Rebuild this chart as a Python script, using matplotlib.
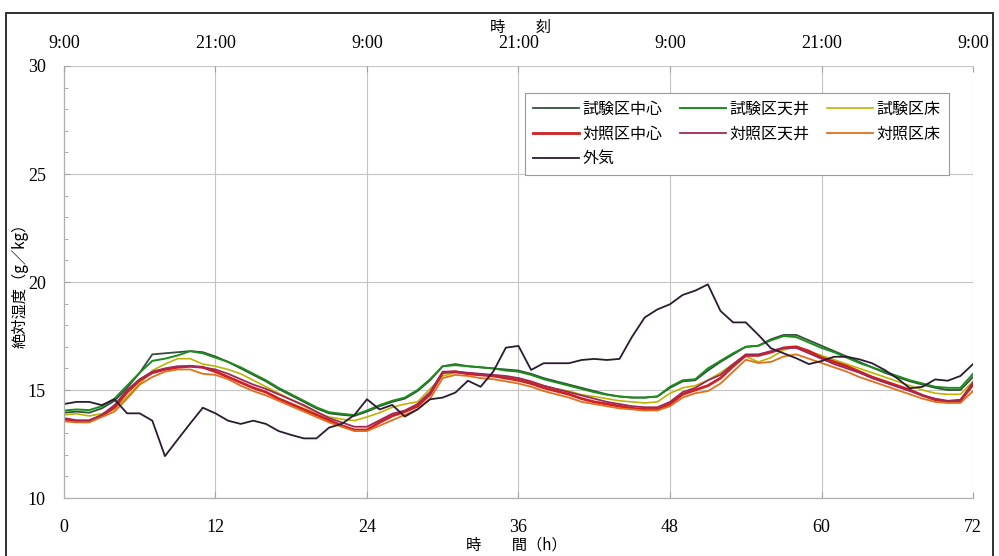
import matplotlib
matplotlib.use("Agg")
import matplotlib.pyplot as plt
from matplotlib.patches import Rectangle
from matplotlib.ticker import MultipleLocator

# Elapsed time (h), hourly readings
hours = list(range(73))

test_center = [13.95, 14.0, 13.95, 14.15, 14.5, 15.1, 15.8, 16.65, 16.7, 16.75, 16.8,
               16.75, 16.55, 16.3, 16.0, 15.7, 15.4, 15.05, 14.75, 14.45, 14.15, 13.92,
               13.85, 13.8, 14.0, 14.25, 14.45, 14.6, 14.95, 15.45, 16.1, 16.2, 16.1,
               16.05, 16.0, 15.95, 15.9, 15.75, 15.55, 15.4, 15.25, 15.1, 14.95, 14.8,
               14.7, 14.65, 14.65, 14.7, 15.1, 15.4, 15.45, 15.9, 16.3, 16.65, 17.0,
               17.05, 17.35, 17.55, 17.55, 17.3, 17.05, 16.8, 16.55, 16.3, 16.05, 15.8,
               15.6, 15.4, 15.25, 15.1, 15.0, 15.0, 15.6]

test_ceiling = [14.05, 14.1, 14.07, 14.25, 14.6, 15.2, 15.8, 16.35, 16.45, 16.6, 16.8,
                16.7, 16.5, 16.3, 16.05, 15.75, 15.45, 15.1, 14.8, 14.5, 14.2, 13.97,
                13.9, 13.84, 14.05, 14.3, 14.5, 14.65, 15.0, 15.5, 16.1, 16.15, 16.1,
                16.05, 16.0, 15.9, 15.85, 15.7, 15.5, 15.35, 15.2, 15.05, 14.9, 14.78,
                14.7, 14.65, 14.65, 14.7, 15.15, 15.45, 15.5, 16.0, 16.35, 16.7, 17.0,
                17.05, 17.3, 17.5, 17.45, 17.2, 16.95, 16.75, 16.5, 16.25, 16.05, 15.85,
                15.65, 15.45, 15.3, 15.15, 15.1, 15.1, 15.75]

test_floor = [13.85, 13.9, 13.8, 13.9, 14.1, 14.7, 15.3, 15.9, 16.2, 16.45, 16.45,
              16.2, 16.1, 15.95, 15.75, 15.45, 15.15, 14.85, 14.55, 14.25, 13.95, 13.75,
              13.65, 13.58, 13.75, 13.95, 14.2, 14.35, 14.45, 15.05, 15.65, 15.8, 15.75,
              15.7, 15.65, 15.6, 15.55, 15.35, 15.2, 15.05, 14.95, 14.78, 14.7, 14.6,
              14.5, 14.45, 14.4, 14.45, 14.85, 15.1, 15.2, 15.45, 15.8, 16.2, 16.55,
              16.3, 16.5, 16.85, 17.0, 16.8, 16.6, 16.4, 16.2, 16.0, 15.8, 15.6,
              15.4, 15.2, 15.0, 14.85, 14.8, 14.8, 15.4]

ctrl_center = [13.65, 13.55, 13.55, 13.8, 14.2, 14.9, 15.45, 15.8, 15.95, 16.05, 16.1,
               16.05, 15.85, 15.6, 15.35, 15.1, 14.9, 14.6, 14.35, 14.1, 13.85, 13.6,
               13.35, 13.15, 13.15, 13.5, 13.8, 14.0, 14.25, 14.8, 15.8, 15.85, 15.75,
               15.7, 15.65, 15.55, 15.45, 15.3, 15.1, 14.95, 14.8, 14.6, 14.45, 14.35,
               14.25, 14.15, 14.1, 14.1, 14.35, 14.8, 15.0, 15.2, 15.55, 16.1, 16.6,
               16.6, 16.75, 16.95, 17.0, 16.8, 16.5, 16.3, 16.1, 15.85, 15.6, 15.4,
               15.2, 15.0, 14.75, 14.55, 14.45, 14.5, 15.25]

ctrl_ceiling = [13.7, 13.6, 13.6, 13.85, 14.3, 15.0, 15.5, 15.85, 16.0, 16.1, 16.1,
                16.05, 15.95, 15.75, 15.5, 15.25, 15.05, 14.8, 14.55, 14.3, 14.0, 13.7,
                13.5, 13.3, 13.3, 13.6, 13.9, 14.05, 14.35, 14.9, 15.85, 15.85, 15.8,
                15.75, 15.7, 15.65, 15.55, 15.4, 15.2, 15.05, 14.9, 14.75, 14.6, 14.45,
                14.35, 14.25, 14.2, 14.2, 14.45, 14.9, 15.1, 15.45, 15.7, 16.2, 16.65,
                16.65, 16.8, 16.95, 16.95, 16.7, 16.45, 16.2, 16.0, 15.8, 15.55, 15.35,
                15.15, 14.95, 14.75, 14.6, 14.5, 14.55, 15.35]

ctrl_floor = [13.55, 13.5, 13.5, 13.75, 14.0, 14.6, 15.25, 15.6, 15.85, 15.95, 15.95,
              15.75, 15.7, 15.5, 15.2, 14.95, 14.75, 14.5, 14.25, 14.0, 13.75, 13.5,
              13.3, 13.1, 13.1, 13.35, 13.6, 13.85, 14.1, 14.6, 15.55, 15.7, 15.65,
              15.55, 15.5, 15.4, 15.3, 15.15, 14.95, 14.8, 14.65, 14.45, 14.35, 14.25,
              14.15, 14.1, 14.05, 14.05, 14.25, 14.65, 14.85, 14.95, 15.3, 15.85, 16.4,
              16.25, 16.3, 16.55, 16.65, 16.45, 16.25, 16.05, 15.85, 15.6, 15.4, 15.2,
              15.0, 14.8, 14.6, 14.45, 14.4, 14.4, 14.95]

outdoor = [14.35, 14.45, 14.45, 14.3, 14.57, 13.92, 13.92, 13.58, 11.94, 12.7, 13.45,
           14.18, 13.92, 13.58, 13.43, 13.58, 13.43, 13.1, 12.92, 12.76, 12.76, 13.26,
           13.43, 13.84, 14.57, 14.1, 14.31, 13.77, 14.1, 14.57, 14.65, 14.88, 15.43,
           15.15, 15.85, 16.96, 17.04, 15.93, 16.24, 16.24, 16.24, 16.39, 16.44, 16.39,
           16.44, 17.47, 18.36, 18.73, 18.97, 19.4, 19.6, 19.89, 18.66, 18.13, 18.13,
           17.55, 16.93, 16.7, 16.47, 16.2, 16.34, 16.54, 16.54, 16.42, 16.24, 15.93,
           15.54, 15.08, 15.15, 15.49, 15.43, 15.65, 16.2]

series_names = ["試験区中心", "試験区天井", "試験区床",
                "対照区中心", "対照区天井", "対照区床", "外気"]

bottom_ticks = [0, 12, 24, 36, 48, 60, 72]
top_labels = ["9:00", "21:00", "9:00", "21:00", "9:00", "21:00", "9:00"]

CJK = ["Noto Sans CJK JP", "DejaVu Sans"]
NUM = "Liberation Serif"

fig = plt.figure(figsize=(9.99, 5.56), dpi=100)
ax = fig.add_axes([0.064, 0.1043, 0.910, 0.7770])

styles = [
    (test_center, "#34503a", 1.3),
    (test_ceiling, "#1c8c1c", 1.4),
    (test_floor, "#bcb400", 1.2),
    (ctrl_center, "#d02020", 2.0),
    (ctrl_ceiling, "#a02858", 1.3),
    (ctrl_floor, "#e0701e", 1.3),
    (outdoor, "#2a1c30", 1.3),
]
handles = []
for (vals, col, lw), name in zip(styles, series_names):
    h, = ax.plot(hours, vals, color=col, lw=lw, label=name, solid_joinstyle="round")
    handles.append(h)

ax.set_xlim(0, 72)
ax.set_ylim(10, 30)
ax.set_xticks(bottom_ticks)
ax.set_yticks([10, 15, 20, 25, 30])
ax.yaxis.set_minor_locator(MultipleLocator(1))
ax.grid(True, which="major", color="#c4c4c4", lw=0.8)
ax.set_axisbelow(True)
for s in ["top", "right"]:
    ax.spines[s].set_visible(False)
for s in ["left", "bottom"]:
    ax.spines[s].set_color("#b0b0b0")
    ax.spines[s].set_linewidth(0.9)
ax.tick_params(axis="both", which="major", direction="in", length=4, color="#a0a0a0",
               labelsize=13, labelfontfamily=NUM)
ax.tick_params(axis="y", which="major", pad=13)
ax.tick_params(axis="x", which="major", pad=15)
ax.tick_params(axis="y", which="minor", direction="in", length=3, color="#a0a0a0")

ax2 = ax.twiny()
ax2.set_xlim(0, 72)
ax2.set_xticks(bottom_ticks)
ax2.set_xticklabels(top_labels, fontfamily=NUM, fontsize=13)
ax2.tick_params(axis="x", direction="in", length=4, color="#a0a0a0", pad=10)
for s in ax2.spines.values():
    s.set_visible(False)

ax.set_ylabel("絶対湿度（g／kg）", family=CJK, fontsize=11)
ax.yaxis.set_label_coords(-0.039, 0.5)
fig.text(0.517, 0.0198, "時　　間（h）", family=CJK, fontsize=11, ha="center", va="center")
fig.text(0.521, 0.950, "時　　刻", family=CJK, fontsize=11, ha="center", va="center")

# Legend laid out row by row: column-major order for matplotlib
order = [0, 3, 6, 1, 4, 2, 5]
leg = ax.legend([handles[i] for i in order], [series_names[i] for i in order],
                ncol=3, loc="upper left", bbox_to_anchor=(0.5255, 0.8327),
                bbox_transform=fig.transFigure, borderaxespad=0,
                prop={"family": CJK, "size": 11.5},
                frameon=True, fancybox=False, edgecolor="#9a9a9a", framealpha=1,
                handlelength=2.9, handletextpad=0.2, columnspacing=1.1,
                labelspacing=0.48, borderpad=0.5)
leg.get_frame().set_linewidth(0.8)

# Outer frame around the figure
fig.patches.append(Rectangle((0.006, -0.05), 0.988, 1.027, transform=fig.transFigure,
                             fill=False, edgecolor="#303030", lw=1.4))

fig.savefig("out.png", dpi=100)
